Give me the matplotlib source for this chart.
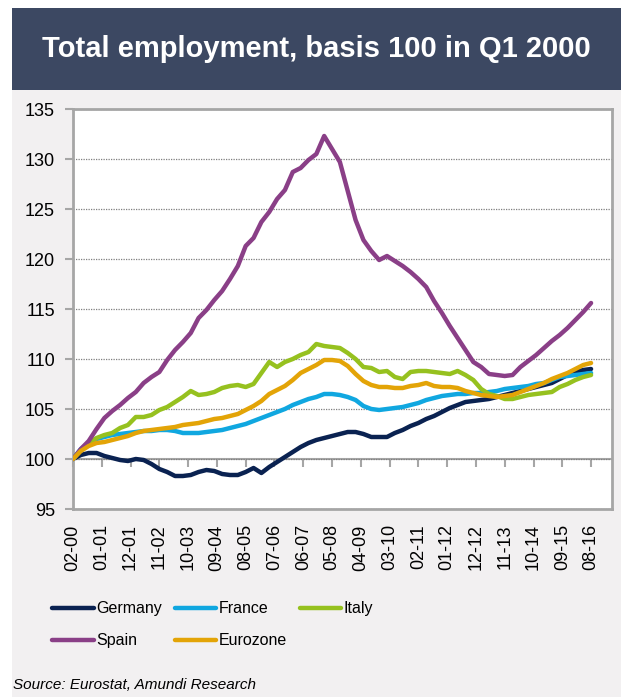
import numpy as np
import matplotlib
matplotlib.use("Agg")
import matplotlib.pyplot as plt
from matplotlib.patches import Rectangle

plt.rcParams['font.family'] = ['Liberation Sans', 'DejaVu Sans']

# quarterly observations, months since Feb 2000
months = np.arange(0, 199, 3)

germany = [100.0, 100.4, 100.6, 100.6, 100.3, 100.1, 99.9, 99.8, 100.0, 99.9,
           99.5, 99.0, 98.7, 98.3, 98.3, 98.4, 98.7, 98.9, 98.8, 98.5,
           98.4, 98.4, 98.7, 99.1, 98.6, 99.2, 99.7, 100.2, 100.7, 101.2,
           101.6, 101.9, 102.1, 102.3, 102.5, 102.7, 102.7, 102.5, 102.2, 102.2,
           102.2, 102.6, 102.9, 103.3, 103.6, 104.0, 104.3, 104.7, 105.1, 105.4,
           105.7, 105.8, 105.9, 106.0, 106.2, 106.4, 106.6, 106.8, 107.0, 107.2,
           107.4, 107.6, 108.0, 108.4, 108.7, 108.9, 109.0]
france = [100.0, 101.0, 101.6, 102.0, 102.2, 102.4, 102.5, 102.6, 102.7, 102.8,
          102.8, 102.9, 102.9, 102.8, 102.6, 102.6, 102.6, 102.7, 102.8, 102.9,
          103.1, 103.3, 103.5, 103.8, 104.1, 104.4, 104.7, 105.0, 105.4, 105.7,
          106.0, 106.2, 106.5, 106.5, 106.4, 106.2, 105.9, 105.3, 105.0, 104.9,
          105.0, 105.1, 105.2, 105.4, 105.6, 105.9, 106.1, 106.3, 106.4, 106.5,
          106.5, 106.6, 106.6, 106.7, 106.8, 107.0, 107.1, 107.2, 107.3, 107.5,
          107.6, 107.9, 108.2, 108.3, 108.4, 108.5, 108.6]
italy = [100.0, 100.9, 101.6, 102.1, 102.4, 102.6, 103.1, 103.4, 104.2, 104.2,
         104.4, 104.9, 105.2, 105.7, 106.2, 106.8, 106.4, 106.5, 106.7, 107.1,
         107.3, 107.4, 107.2, 107.5, 108.6, 109.7, 109.2, 109.7, 110.0, 110.4,
         110.7, 111.5, 111.3, 111.2, 111.1, 110.6, 110.0, 109.2, 109.1, 108.7,
         108.8, 108.2, 108.0, 108.7, 108.8, 108.8, 108.7, 108.6, 108.5, 108.8,
         108.4, 107.9, 107.0, 106.5, 106.3, 106.0, 106.0, 106.2, 106.4, 106.5,
         106.6, 106.7, 107.2, 107.5, 107.9, 108.2, 108.4]
spain = [100.0, 101.0, 101.8, 103.0, 104.1, 104.8, 105.4, 106.1, 106.7, 107.6,
         108.2, 108.7, 109.9, 110.9, 111.7, 112.6, 114.1, 114.9, 115.9, 116.8,
         118.0, 119.3, 121.3, 122.1, 123.7, 124.7, 126.0, 126.9, 128.7, 129.1,
         129.9, 130.5, 132.3, 131.0, 129.7, 126.8, 123.9, 121.9, 120.8, 119.9,
         120.3, 119.8, 119.3, 118.7, 118.0, 117.2, 115.8, 114.6, 113.3, 112.1,
         110.9, 109.7, 109.2, 108.5, 108.4, 108.3, 108.4, 109.2, 109.8, 110.4,
         111.1, 111.8, 112.4, 113.1, 113.9, 114.7, 115.6]
eurozone = [100.0, 100.8, 101.3, 101.6, 101.7, 101.9, 102.1, 102.3, 102.6, 102.8,
            102.9, 103.0, 103.1, 103.2, 103.4, 103.5, 103.6, 103.8, 104.0, 104.1,
            104.3, 104.5, 104.9, 105.3, 105.8, 106.5, 106.9, 107.3, 107.9, 108.6,
            109.0, 109.4, 109.9, 109.9, 109.8, 109.3, 108.5, 107.8, 107.4, 107.2,
            107.2, 107.1, 107.1, 107.3, 107.4, 107.6, 107.3, 107.2, 107.2, 107.1,
            106.8, 106.6, 106.4, 106.3, 106.2, 106.3, 106.4, 106.7, 107.0, 107.3,
            107.6, 108.0, 108.3, 108.6, 109.0, 109.4, 109.6]

tick_labels = ["02-00", "01-01", "12-01", "11-02", "10-03", "09-04", "08-05",
               "07-06", "06-07", "05-08", "04-09", "03-10", "02-11", "01-12",
               "12-12", "11-13", "10-14", "09-15", "08-16"]
tick_months = np.arange(0, 199, 11)

series = [("Germany", germany, "#0a2251"),
          ("France", france, "#10a7e0"),
          ("Italy", italy, "#96c11f"),
          ("Spain", spain, "#8a3f87"),
          ("Eurozone", eurozone, "#e3a407")]

W, H = 621, 697
fig = plt.figure(figsize=(W / 100, H / 100), dpi=100, facecolor="white")

# panel background and title banner
fig.patches.append(Rectangle((12 / W, 0), 1, 1 - 90 / H, transform=fig.transFigure,
                             facecolor="#f2f0f1", edgecolor="none", zorder=-2))
fig.patches.append(Rectangle((12 / W, 1 - 90 / H), 1, 82 / H, transform=fig.transFigure,
                             facecolor="#3c4862", edgecolor="none", zorder=-2))
fig.text(316 / W, 1 - 49 / H, "Total employment, basis 100 in Q1 2000",
         color="white", fontsize=21, fontweight="bold", ha="center", va="center")

ax = fig.add_axes([73 / W, 1 - 509 / H, (612 - 73) / W, (509 - 109) / H])
ax.set_facecolor("white")

for name, vals, col in series:
    ax.plot(months, vals, color=col, lw=3.2, label=name, solid_capstyle="round",
            solid_joinstyle="round", zorder=3)

ax.set_ylim(95, 135)
ax.set_xlim(0, 206)
ax.set_yticks(np.arange(95, 136, 5))
ax.yaxis.grid(True, color="#7f7f7f", linestyle=(0, (1, 1)), lw=0.9)
ax.set_axisbelow(True)

for s in ax.spines.values():
    s.set_color("#a6a6a6")
    s.set_linewidth(2)

ax.tick_params(axis="y", direction="out", length=6, width=1.5, color="#a6a6a6",
               labelsize=13, pad=7)
ax.set_xticks(tick_months)
ax.set_xticklabels(tick_labels, rotation=90, fontsize=13)
ax.tick_params(axis="x", length=0, pad=11)

# horizontal axis line at the base value with its tick marks
base_axis = ax.secondary_xaxis((100 - 95) / 40)
base_axis.set_xticks(tick_months)
base_axis.tick_params(axis="x", direction="out", length=6, width=1.5,
                      color="#a6a6a6", labelbottom=False, labeltop=False)
base_axis.spines["bottom"].set_color("#a6a6a6")
base_axis.spines["bottom"].set_linewidth(1.5)

handles, labels = ax.get_legend_handles_labels()
order = [0, 3, 1, 4, 2]
fig.legend([handles[i] for i in order], [labels[i] for i in order],
           loc="upper left", bbox_to_anchor=(38 / W, 1 - 587 / H), ncol=3,
           frameon=False, fontsize=11.5, handlelength=2.6, handletextpad=0.15,
           columnspacing=0.8, labelspacing=1.05)

fig.text(13 / W, 1 - 685 / H, "Source: Eurostat, Amundi Research",
         fontsize=11, style="italic", ha="left", va="center")

fig.savefig("out.png", dpi=100, facecolor=fig.get_facecolor())
